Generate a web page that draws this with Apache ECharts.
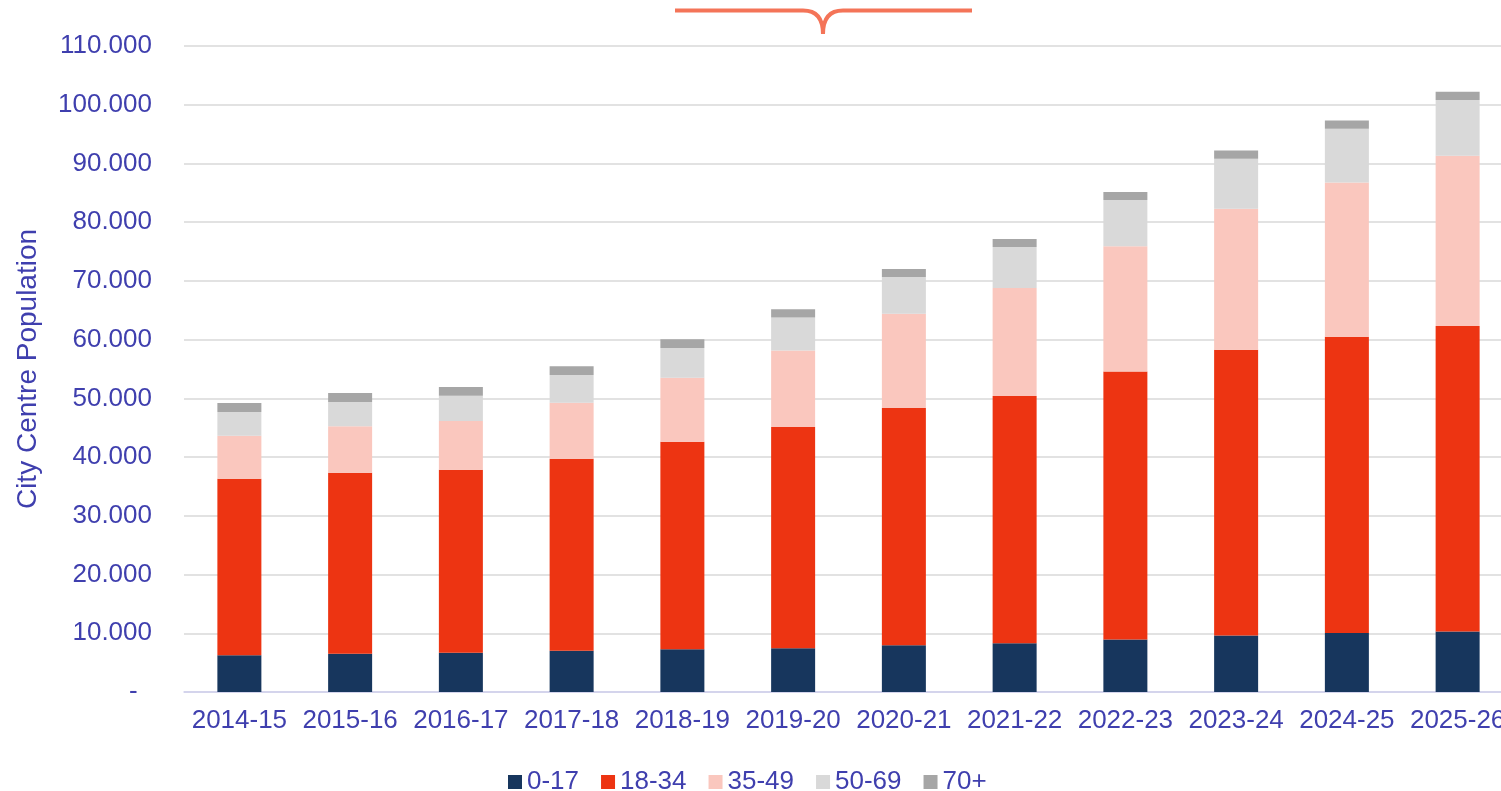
<!DOCTYPE html>
<html>
<head>
<meta charset="utf-8">
<style>
    html, body { margin: 0; padding: 0; background: #fff; overflow: hidden; }
    #chart { width: 1513px; height: 791px; }
</style>
<script src="https://cdn.jsdelivr.net/npm/echarts@6/dist/echarts.min.js"></script>
</head>
<body>
<div id="chart"></div>
<script>
// 年份
const years = ['2014-15', '2015-16', '2016-17', '2017-18', '2018-19', '2019-20',
    '2020-21', '2021-22', '2022-23', '2023-24', '2024-25', '2025-26']

// 各年龄段人口
const age0to17 = [6250, 6520, 6690, 7030, 7260, 7430, 7950, 8290, 8950, 9620, 10030, 10300]
const age18to34 = [30070, 30820, 31160, 32700, 35360, 37690, 40410, 42110, 45630, 48660, 50470, 52010]
const age35to49 = [7320, 7900, 8290, 9530, 10900, 13050, 16060, 18390, 21330, 24020, 26240, 29010]
const age50to69 = [4040, 4140, 4310, 4720, 5050, 5620, 6240, 6980, 7870, 8480, 9160, 9480]
const age70plus = [1530, 1530, 1480, 1470, 1480, 1370, 1360, 1360, 1350, 1410, 1410, 1420]

const seriesNames = ['0-17', '18-34', '35-49', '50-69', '70+']
const seriesData = [age0to17, age18to34, age35to49, age50to69, age70plus]
const colors = ['#17365d', '#ed3412', '#fac7be', '#d9d9d9', '#a6a6a6']

const textColor = '#3f3fae'
const font = '"Liberation Sans", Arial, sans-serif'

// 图表比窗口略宽, 最后一个标签被裁掉
const chart = echarts.init(document.getElementById('chart'))

// 顶部的大括号装饰
const braceStyle = { fill: 'none', stroke: '#f47458', lineWidth: 4 }
const brace = [
    { type: 'line', shape: { x1: 675, y1: 10.5, x2: 803, y2: 10.5 }, style: braceStyle },
    { type: 'line', shape: { x1: 843, y1: 10.5, x2: 972, y2: 10.5 }, style: braceStyle },
    { type: 'bezierCurve', shape: { x1: 803, y1: 10.5, cpx1: 823, cpy1: 10.5, x2: 823, y2: 34 }, style: braceStyle },
    { type: 'bezierCurve', shape: { x1: 843, y1: 10.5, cpx1: 823, cpy1: 10.5, x2: 823, y2: 34 }, style: braceStyle }
]

const option = {
    animation: false,
    textStyle: { fontFamily: font },
    color: colors,
    grid: {
        left: 184,
        right: 0,
        top: 46,
        bottom: 99
    },
    legend: {
        top: 764,
        left: 503,
        icon: 'rect',
        itemWidth: 14,
        itemHeight: 14,
        itemGap: 22,
        textStyle: { color: textColor, fontSize: 26, fontFamily: font },
        data: seriesNames
    },
    xAxis: {
        type: 'category',
        data: years,
        axisLine: { lineStyle: { color: '#d0d0f0', width: 1.5 } },
        axisTick: { show: false },
        axisLabel: { color: textColor, fontSize: 26, margin: 16, interval: 0, fontFamily: font }
    },
    yAxis: {
        type: 'value',
        min: 0,
        max: 110000,
        interval: 10000,
        name: 'City Centre Population',
        nameLocation: 'middle',
        nameGap: 142,
        nameTextStyle: { color: textColor, fontSize: 28, fontFamily: font },
        axisLine: { show: false },
        axisTick: { show: false },
        splitLine: { lineStyle: { color: '#d9d9d9', width: 1.5 } },
        axisLabel: {
            color: textColor,
            fontSize: 26,
            margin: 32,
            fontFamily: font,
            formatter: function (v) {
                if (v === 0) return '-  '
                return String(v).replace(/\B(?=(\d{3})+(?!\d))/g, '.')
            }
        }
    },
    graphic: brace,
    series: seriesNames.map((name, i) => ({
        name: name,
        type: 'bar',
        stack: 'pop',
        barWidth: 44,
        data: seriesData[i],
        itemStyle: { color: colors[i] }
    }))
}

chart.setOption(option)
</script>
</body>
</html>
